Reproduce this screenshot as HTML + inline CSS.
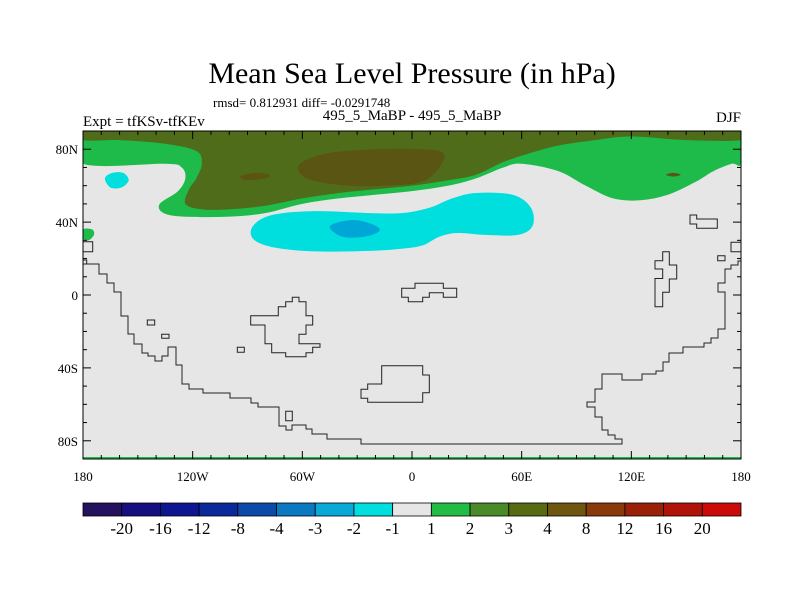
<!DOCTYPE html>
<html><head><meta charset="utf-8"><style>
body{margin:0;background:#fff;width:800px;height:600px;overflow:hidden}
svg text{font-family:"Liberation Serif",serif;fill:#000}
</style></head><body>
<svg id="chart" width="800" height="600" viewBox="0 0 800 600">
<text x="412" y="83" font-size="30" text-anchor="middle">Mean Sea Level Pressure (in hPa)</text>
<text x="213" y="107" font-size="13">rmsd= 0.812931 diff= -0.0291748</text>
<text x="83" y="126" font-size="15">Expt = tfKSv-tfKEv</text>
<text x="412" y="120" font-size="15" text-anchor="middle">495_5_MaBP - 495_5_MaBP</text>
<text x="741" y="122" font-size="15" text-anchor="end">DJF</text>
<defs><clipPath id="pc"><rect x="83" y="131" width="658" height="328"/></clipPath></defs>
<rect x="83" y="131" width="658" height="328" fill="#e6e6e6"/>
<g id="fills" clip-path="url(#pc)"></g>
<g id="coast" fill="none" stroke="#222" stroke-width="1" clip-path="url(#pc)">
<path d="M83,264H99V274H107V283H114V292H121V316H128V334H134V344H142V353H148V356H155V361H162V356H168V347H176V365H182V384H189V389H203V393H230V398H251V403H258V407H279V426H286V430H292V425H306V429H312V434H327V439H361V444H622V439H615V435H608V430H602V417H595V407H587V402H595V389H602V374H622V380H642V374H656V371H663V362H669V353H683V347H704V343H711V338H718V329H725V292H718V283H725V269H731V265H738V261H741"/>
<path d="M250.7,315.7H278.3V306.7H285.7V301.7H292.3V297.3H299V301.7H306V315.7H312.7V325H306V334.3H299V343.7H320V347.3H312.7V352.7H306V356.7H285.7V352.7H271.7V343.7H265V325H250.7Z"/>
<path d="M147.3,320H154.7V325H147.3Z M161.7,334.3H169V338.3H161.7Z M237.3,347.3H244.3V352.3H237.3Z M285.7,411.3H292.3V420.7H285.7Z"/>
<path d="M381.7,365.7H422.7V375H429.3V392.7H422.7V402.3H367.7V398.3H361V389.3H367.7V384H381.7Z"/>
<path d="M83,241.7H92.7V251.7H83 M83,260H86.7V264"/>
<path d="M401.7,288.3H415V283.3H443.3V288.3H456.7V297.3H443.3V292.7H429.3V297.3H422.7V301.7H408.3V297.3H401.7Z"/>
<path d="M655,260.7H662.7V251.7H669.3V265H676.7V279H669.3V292.3H662.7V306.7H655V278.5H662.7V269H655Z"/>
<path d="M690,215H696.7V219H717.3V228.3H696.7V224H690Z M717.7,255.7H725V260.7H717.7Z M741,242.3H731V251.7H741"/>
</g>
<g id="axes"></g>
<g id="cbar"></g>
</svg>
<script>
// colorbar data
const levels=[-20,-16,-12,-8,-4,-3,-2,-1,1,2,3,4,8,12,16,20];
const levelColors=["#24125f","#160f80","#0d1690","#0a2a9c","#0b4aa8","#0b78c2","#0aa8d6","#00dede","#e6e6e6","#22bb44","#4a8a28","#566b12","#6e5510","#8a3a0a","#9a2008","#b01408","#cc0a0a"];
// map fill colours for each contour band (as rendered on the map)
const mapColors=["#00a6d6","#00dede","#1fbb4a","#4f6c1a","#5a5512"];
// contour regions: [lon,lat] vertices
const greenRegion=[[-180,90],[180,90],[180,72],[175,72],[165,68],[155,62],[140,55],[125,52],[110,53],[95,60],[80,68],[60,72],[50,70],[35,64],[20,60],[0,57],[-20,55],[-40,53],[-60,50],[-80,45],[-100,43],[-125,43],[-136,45],[-138,50],[-128,57],[-124,64],[-126,70],[-135,72],[-180,72]];
const darkGreenRegion=[[-180,90],[180,90],[180,85],[150,85],[120,87],[100,85],[80,82],[65,78],[50,73],[35,66],[20,63],[0,60],[-20,58],[-40,56],[-60,53],[-80,49],[-100,47],[-115,47],[-124,50],[-122,58],[-118,64],[-115,72],[-118,79],[-135,83],[-160,85],[-180,85]];
const brownRegion=[[-60,73],[-45,78],[-20,80],[5,80],[17,78],[15,70],[5,62],[-15,60],[-35,60],[-55,63],[-62,68]];
const brownSmall=[[-94,65],[-86,67],[-78,66],[-80,64],[-90,63]];
const brownDot=[[139,66],[143,67],[147,66],[143,65]];
const cyanRegion=[[-88,36],[-82,42],[-70,45],[-50,46],[-25,45],[-5,45],[10,48],[22,53],[35,56],[55,55],[65,48],[66,38],[58,33],[40,33],[25,34],[15,32],[5,27],[-10,25],[-30,24],[-55,24],[-75,26],[-86,30]];
const cyanSmall=[[-168,64],[-164,67],[-158,67],[-155,63],[-159,59],[-165,59]];
const blueRegion=[[-45,37],[-40,40],[-30,41],[-20,38],[-18,35],[-26,32],[-38,32]];
const greenDotLeft=[[-180,31],[-180,36],[-175,36],[-174,33],[-177,30]];
const regions=[[greenRegion,2],[darkGreenRegion,3],[brownRegion,4],[brownSmall,4],[brownDot,4],[cyanRegion,1],[cyanSmall,1],[blueRegion,0],[greenDotLeft,2]];
const lonTicks=[-180,-120,-60,0,60,120,180];
const lonLabels=["180","120W","60W","0","60E","120E","180"];
const latTicks=[80,40,0,-40,-80];
const latLabels=["80N","40N","0","40S","80S"];

const X0=83,X1=741,Y0=131,Y1=459;
const xs=lon=>X0+(lon+180)/360*(X1-X0);
const ys=lat=>Y0+(90-lat)/180*(Y1-Y0);
const NS="http://www.w3.org/2000/svg";
function mk(t,a,p){const e=document.createElementNS(NS,t);for(const k in a)e.setAttribute(k,a[k]);p.appendChild(e);return e;}
function smooth(pts){
  const P=pts.map(p=>[xs(p[0]),ys(p[1])]);const n=P.length;let d="M"+P[0][0]+","+P[0][1];
  for(let i=0;i<n;i++){const p0=P[(i-1+n)%n],p1=P[i],p2=P[(i+1)%n],p3=P[(i+2)%n];
    const c1=[p1[0]+(p2[0]-p0[0])/6,p1[1]+(p2[1]-p0[1])/6],c2=[p2[0]-(p3[0]-p1[0])/6,p2[1]-(p3[1]-p1[1])/6];
    d+="C"+c1+" "+c2+" "+p2;}
  return d+"Z";}
const fills=document.getElementById('fills');
regions.forEach((r,i)=>{const e=mk('path',{d:smooth(r[0]),fill:mapColors[r[1]]},fills);

});
const bl=mk('rect',{x:X0,y:Y1-2,width:X1-X0,height:2,fill:"#1fbb4a"},fills);



const ax=document.getElementById('axes');
mk('rect',{x:X0,y:Y0,width:X1-X0,height:Y1-Y0,fill:"none",stroke:"#000","stroke-width":1},ax);
for(let lon=-180;lon<=180;lon+=10){const x=xs(lon),L=lon%60==0?8:4;
  mk('line',{x1:x,x2:x,y1:Y1,y2:Y1-L,stroke:"#000"},ax);mk('line',{x1:x,x2:x,y1:Y0,y2:Y0+L,stroke:"#000"},ax);}
for(let lat=-90;lat<=90;lat+=10){const y=ys(lat),L=lat%40==0?8:4;
  mk('line',{x1:X0,x2:X0+L,y1:y,y2:y,stroke:"#000"},ax);mk('line',{x1:X1,x2:X1-L,y1:y,y2:y,stroke:"#000"},ax);}
lonTicks.forEach((v,i)=>{const t=mk('text',{x:xs(v),y:481,"font-size":13,"text-anchor":"middle"},ax);t.textContent=lonLabels[i];

});
latTicks.forEach((v,i)=>{const t=mk('text',{x:78,y:ys(v)+5,"font-size":13,"text-anchor":"end"},ax);t.textContent=latLabels[i];

});

const cb=document.getElementById('cbar');const n=levelColors.length,w=(X1-X0)/n;
levelColors.forEach((c,i)=>{const r=mk('rect',{x:X0+i*w,y:503,width:w,height:13,fill:c,stroke:"#000","stroke-width":0.8},cb);

});
levels.forEach((v,i)=>{const t=mk('text',{x:X0+(i+1)*w,y:534,"font-size":17,"text-anchor":"middle"},cb);t.textContent=v;

});
</script>
</body></html>
